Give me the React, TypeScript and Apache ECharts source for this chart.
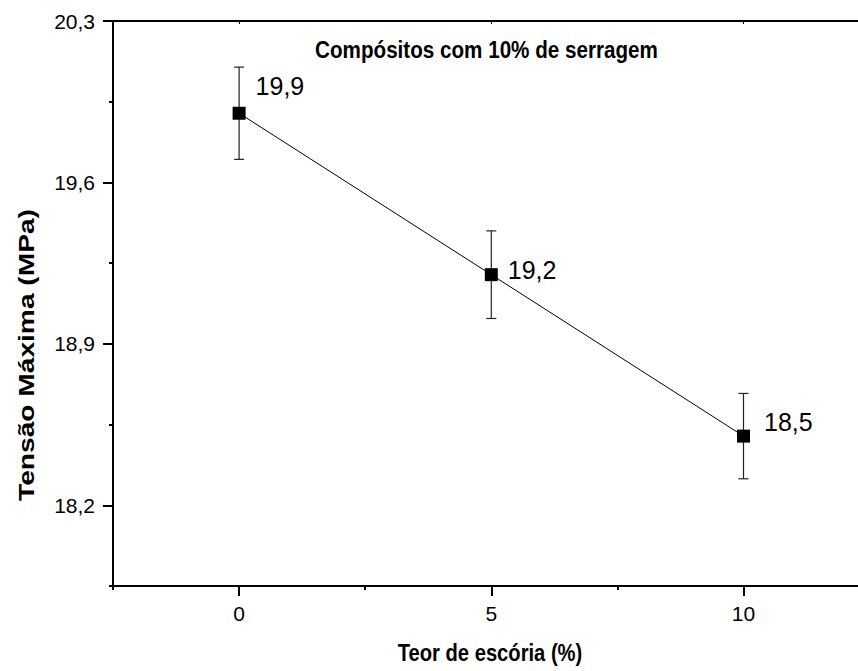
import React, { useEffect, useRef } from "react";
import * as echarts from "echarts";

const FONT = "'Liberation Sans', Arial, Helvetica, sans-serif";

// Data
const xValues = [0, 5, 10];
const yValues = [19.9, 19.2, 18.5];
const yErrors = [0.2, 0.19, 0.185];
const xMajorTicks = [0, 5, 10];
const xMinorTicks = [-2.5, 2.5, 7.5];
const yMajorTicks = [18.2, 18.9, 19.6, 20.3];
const yMinorTicks = [17.85, 18.55, 19.25, 19.95];
const titleText = "Compósitos com 10% de serragem";
const xTitle = "Teor de escória (%)";
const yTitle = "Tensão Máxima (MPa)";

const fmt = (v: number) => v.toFixed(1).replace(".", ",");
const fmtInt = (v: number) => String(Math.round(v));

export default function App() {
  const ref = useRef<HTMLDivElement>(null);
  useEffect(() => {
    if (!ref.current) return;
    const chart = echarts.init(ref.current, null, { renderer: "svg" });
    const X_MIN = -2.5;
    const X_MAX = 12.27;
    const Y_MIN = 17.85;
    const Y_MAX = 20.3;

    const labelOffsets: [number, number][] = [
      [0, -27],
      [0, -5],
      [4, -14],
    ];

    const option: any = {
      animation: false,
      backgroundColor: "#ffffff",
      grid: { left: 113, top: 21, right: 0, bottom: 85, containLabel: false },
      xAxis: [
        {
          type: "value",
          min: X_MIN,
          max: X_MAX,
          position: "bottom",
          splitLine: { show: false },
          axisLine: { show: true, onZero: false, lineStyle: { color: "#000", width: 2 } },
          axisTick: { show: true, customValues: xMajorTicks, length: 10, lineStyle: { color: "#000", width: 2 } },
          axisLabel: {
            customValues: xMajorTicks,
            formatter: fmtInt,
            fontFamily: FONT,
            fontSize: 21,
            color: "#000",
            margin: 17,
          },
        },
        {
          type: "value",
          min: X_MIN,
          max: X_MAX,
          position: "bottom",
          splitLine: { show: false },
          axisLine: { show: false, onZero: false },
          axisTick: { show: true, customValues: xMinorTicks, length: 4, lineStyle: { color: "#000", width: 2 } },
          axisLabel: { show: false },
        },
        {
          type: "value",
          min: X_MIN,
          max: X_MAX,
          position: "top",
          splitLine: { show: false },
          axisLine: { show: true, onZero: false, lineStyle: { color: "#000", width: 2 } },
          axisTick: { show: true, inside: true, customValues: xMajorTicks, length: 3, lineStyle: { color: "#000", width: 1 } },
          axisLabel: { show: false },
        },
      ],
      yAxis: [
        {
          type: "value",
          min: Y_MIN,
          max: Y_MAX,
          position: "left",
          splitLine: { show: false },
          axisLine: { show: true, onZero: false, lineStyle: { color: "#000", width: 2 } },
          axisTick: { show: true, customValues: yMajorTicks, length: 10, lineStyle: { color: "#000", width: 2 } },
          axisLabel: {
            customValues: yMajorTicks,
            formatter: fmt,
            fontFamily: FONT,
            fontSize: 21,
            color: "#000",
            margin: 18,
          },
        },
        {
          type: "value",
          min: Y_MIN,
          max: Y_MAX,
          position: "left",
          splitLine: { show: false },
          axisLine: { show: false, onZero: false },
          axisTick: { show: true, customValues: yMinorTicks, length: 4, lineStyle: { color: "#000", width: 2 } },
          axisLabel: { show: false },
        },
      ],
      series: [
        {
          type: "custom",
          xAxisIndex: 0,
          yAxisIndex: 0,
          data: xValues.map((x, i) => [x, yValues[i] - yErrors[i], yValues[i] + yErrors[i]]),
          encode: { x: 0, y: [1, 2] },
          z: 1,
          renderItem: (params: any, api: any) => {
            const x = api.value(0);
            const lo = api.coord([x, api.value(1)]);
            const hi = api.coord([x, api.value(2)]);
            const half = 5;
            const style = { stroke: "#222", lineWidth: 1.2 };
            return {
              type: "group",
              children: [
                { type: "line", shape: { x1: lo[0], y1: lo[1], x2: hi[0], y2: hi[1] }, style },
                { type: "line", shape: { x1: lo[0] - half, y1: lo[1], x2: lo[0] + half, y2: lo[1] }, style },
                { type: "line", shape: { x1: hi[0] - half, y1: hi[1], x2: hi[0] + half, y2: hi[1] }, style },
              ],
            };
          },
        },
        {
          type: "line",
          xAxisIndex: 0,
          yAxisIndex: 0,
          z: 3,
          data: xValues.map((x, i) => ({
            value: [x, yValues[i]],
            label: {
              show: true,
              position: "right",
              distance: 10,
              offset: labelOffsets[i],
              formatter: () => fmt(yValues[i]),
              fontFamily: FONT,
              fontSize: 25,
              color: "#000",
            },
          })),
          symbol: "rect",
          symbolSize: 13,
          itemStyle: { color: "#000" },
          lineStyle: { color: "#000", width: 1 },
        },
      ],
      graphic: [
        {
          type: "text",
          x: 486.5,
          y: 50,
          scaleX: 0.86,
          style: {
            text: titleText,
            fontFamily: FONT,
            fontWeight: "bold",
            fontSize: 24,
            fill: "#000",
            textAlign: "center",
            textVerticalAlign: "middle",
          },
        },
        {
          type: "text",
          x: 490,
          y: 653,
          scaleX: 0.877,
          style: {
            text: xTitle,
            fontFamily: FONT,
            fontWeight: "bold",
            fontSize: 23,
            fill: "#000",
            textAlign: "center",
            textVerticalAlign: "middle",
          },
        },
        {
          type: "text",
          x: 26,
          y: 355,
          rotation: Math.PI / 2,
          scaleX: 1.28,
          style: {
            text: yTitle,
            fontFamily: FONT,
            fontWeight: "bold",
            fontSize: 22,
            fill: "#000",
            textAlign: "center",
            textVerticalAlign: "middle",
          },
        },
      ],
    };
    chart.setOption(option);
    return () => chart.dispose();
  }, []);
  return (
    <div
      ref={ref}
      style={{ position: "fixed", left: 0, top: 0, width: 858, height: 671, background: "#fff" }}
    />
  );
}
